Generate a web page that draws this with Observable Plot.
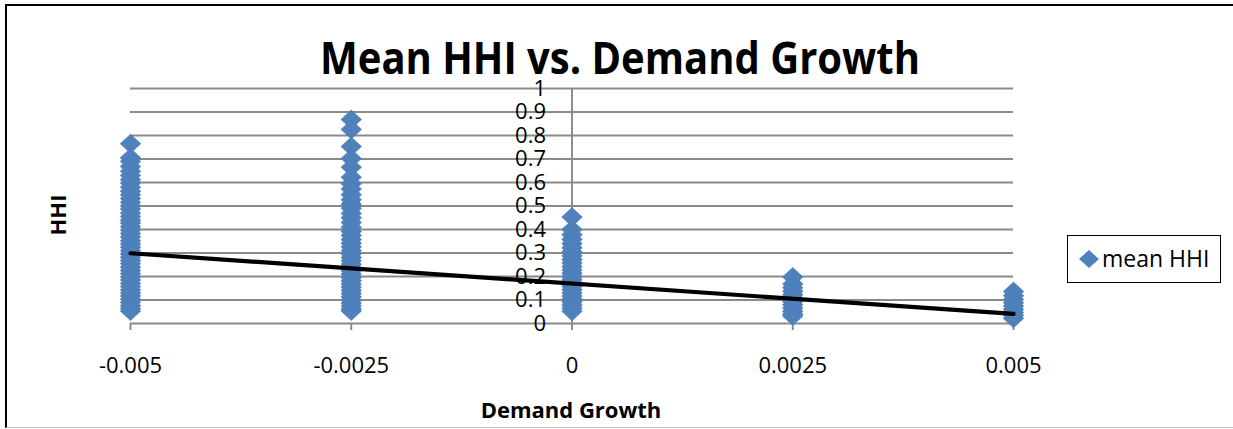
<!DOCTYPE html>
<html>
<head>
<meta charset="utf-8">
<script src="https://cdn.jsdelivr.net/npm/d3@7"></script>
<script src="https://cdn.jsdelivr.net/npm/@observablehq/plot@0.6"></script>
<style>
  body { margin: 0; background: #fff; }
  #chart { position: relative; width: 1233px; height: 429px; overflow: hidden; font-family: "Open Sans", sans-serif; color: #000; }
  #chart svg.plot { position: absolute; left: 0; top: 0; }
  .frame { position: absolute; left: 5px; top: 4px; width: 1240px; height: 424px; border-left: 2.5px solid #000; border-top: 2.5px solid #000; border-bottom: 1px solid #c4c4c4; box-sizing: border-box; }
  .label { position: absolute; white-space: nowrap; line-height: 1.362; transform: translate(-50%, -50%); }
  .legend { position: absolute; left: 1067px; top: 235px; width: 154px; height: 48px; border: 1.6px solid #000; box-sizing: border-box; background: #fff; }
  .legend svg { position: absolute; left: 9px; top: 12px; }
  .legend span { position: absolute; left: 34px; top: 50%; transform: translateY(-50%); font-size: 23px; line-height: 1.362; white-space: nowrap; }
</style>
</head>
<body>
<div id="chart"></div>
<script>
// Demand growth levels and the mean HHI of each run at that level
const growthLevels = [-0.005, -0.0025, 0, 0.0025, 0.005];
const hhiGrowthMinus005 = [0.765, 0.705, 0.690, 0.668, 0.648, 0.630, 0.612, 0.598, 0.580, 0.563, 0.548, 0.532, 0.515, 0.500, 0.487, 0.470, 0.455, 0.440, 0.428, 0.412, 0.398, 0.383, 0.368, 0.352, 0.338, 0.325, 0.310, 0.296, 0.282, 0.268, 0.255, 0.240, 0.226, 0.212, 0.198, 0.185, 0.170, 0.157, 0.143, 0.130, 0.117, 0.103, 0.090, 0.076, 0.064, 0.053];
const hhiGrowthMinus0025 = [0.868, 0.826, 0.753, 0.702, 0.665, 0.622, 0.595, 0.572, 0.548, 0.527, 0.508, 0.490, 0.468, 0.450, 0.430, 0.410, 0.392, 0.375, 0.357, 0.342, 0.326, 0.310, 0.296, 0.281, 0.267, 0.252, 0.238, 0.224, 0.210, 0.196, 0.182, 0.168, 0.155, 0.141, 0.128, 0.114, 0.100, 0.087, 0.074, 0.062, 0.053];
const hhiGrowthZero = [0.453, 0.400, 0.378, 0.358, 0.340, 0.322, 0.305, 0.288, 0.272, 0.257, 0.242, 0.228, 0.214, 0.200, 0.186, 0.172, 0.158, 0.144, 0.130, 0.117, 0.104, 0.091, 0.078, 0.065, 0.052];
const hhiGrowthPlus0025 = [0.198, 0.168, 0.152, 0.137, 0.122, 0.108, 0.094, 0.080, 0.066, 0.052, 0.040, 0.032];
const hhiGrowthPlus005 = [0.136, 0.118, 0.102, 0.088, 0.074, 0.060, 0.047, 0.035, 0.022];

// Linear trend line through the runs (its two end points)
const trendGrowth = [-0.005, 0.005];
const trendHHI = [0.299, 0.041];

// Axis ticks and their labels
const xTicks = [-0.005, -0.0025, 0, 0.0025, 0.005];
const xTickLabels = ["-0.005", "-0.0025", "0", "0.0025", "0.005"];
const yTicks = [0, 0.1, 0.2, 0.3, 0.4, 0.5, 0.6, 0.7, 0.8, 0.9, 1];
const yTickLabels = ["0", "0.1", "0.2", "0.3", "0.4", "0.5", "0.6", "0.7", "0.8", "0.9", "1"];

const titleText = "Mean HHI vs. Demand Growth";
const xTitle = "Demand Growth";
const yTitle = "HHI";
const seriesName = "mean HHI";

const blue = "#4f81bd";
const gridGray = "#8a8a8a";

// Build the point table
const hhiByLevel = [hhiGrowthMinus005, hhiGrowthMinus0025, hhiGrowthZero, hhiGrowthPlus0025, hhiGrowthPlus005];
const runs = growthLevels.flatMap((g, i) => hhiByLevel[i].map(v => ({growth: g, hhi: v})));
const trend = trendGrowth.map((g, i) => ({growth: g, hhi: trendHHI[i]}));

// Diamond marker, slightly wider than tall
const markerDiamond = {
  draw(context, size) {
    const h = Math.sqrt(size / Math.PI) * 0.9;
    const w = h * 1.08;
    context.moveTo(0, -h);
    context.lineTo(w, 0);
    context.lineTo(0, h);
    context.lineTo(-w, 0);
    context.closePath();
  }
};

const plot = Plot.plot({
  width: 1233,
  height: 429,
  marginLeft: 130,
  marginRight: 220,
  marginTop: 88,
  marginBottom: 106,
  style: {fontFamily: "\"Open Sans\", sans-serif", fontSize: "22px", color: "#000", background: "transparent"},
  x: {domain: [-0.005, 0.005]},
  y: {domain: [0, 1]},
  marks: [
    Plot.ruleY(yTicks.slice(1), {stroke: gridGray, strokeWidth: 1.9}),
    Plot.ruleY([0], {stroke: gridGray, strokeWidth: 1.9}),
    Plot.ruleX([0], {y1: 0, y2: 1, stroke: gridGray, strokeWidth: 1.9}),
    Plot.axisX({
      ticks: xTicks,
      tickFormat: (d, i) => xTickLabels[i],
      tickSize: 7,
      tickPadding: 27,
      stroke: gridGray,
      strokeWidth: 1.9,
      fill: "#000",
      fontSize: 22,
      label: null
    }),
    Plot.axisY({ticks: [], label: null}),
    Plot.text(yTicks, {
      x: () => 0,
      y: d => d,
      text: (d, i) => yTickLabels[i],
      dx: -26,
      textAnchor: "end",
      lineAnchor: "middle",
      fontSize: 22,
      fill: "#000"
    }),
    Plot.dot(runs, {x: "growth", y: "hhi", symbol: markerDiamond, r: 10.6, fill: blue, stroke: "#4a7ab5", strokeWidth: 0.6}),
    Plot.line(trend, {x: "growth", y: "hhi", stroke: "#000", strokeWidth: 4.2})
  ]
});

const chart = document.getElementById("chart");
chart.appendChild(plot);

const frame = document.createElement("div");
frame.className = "frame";
chart.appendChild(frame);

function addLabel(text, cx, cy, css) {
  const el = document.createElement("div");
  el.className = "label";
  el.textContent = text;
  el.style.left = cx + "px";
  el.style.top = cy + "px";
  Object.assign(el.style, css);
  chart.appendChild(el);
  return el;
}

addLabel(titleText, 620, 57, {fontSize: "40px", fontWeight: "700", transform: "translate(-50%, -50%) scaleY(1.12)"});
addLabel(xTitle, 571, 410, {fontSize: "22px", fontWeight: "700"});
addLabel(yTitle, 58, 215, {fontSize: "22px", fontWeight: "700", transform: "translate(-50%, -50%) rotate(-90deg)"});

// Legend box
const legend = document.createElement("div");
legend.className = "legend";
legend.innerHTML = `<svg width="24" height="22" viewBox="-12 -11 24 22"><path d="M0,-9L10,0L0,9L-10,0Z" fill="${blue}"/></svg><span></span>`;
legend.querySelector("span").textContent = seriesName;
chart.appendChild(legend);
</script>
</body>
</html>
